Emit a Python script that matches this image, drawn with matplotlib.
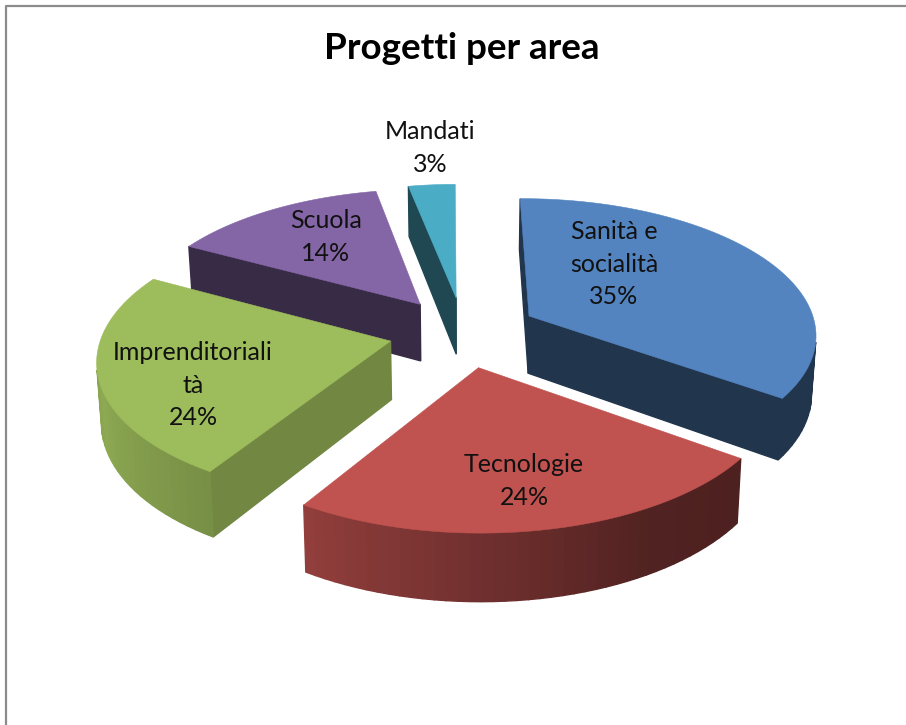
"""
Exploded 3D-look pie chart: projects each slice from a flat disk with perspective.
"""

import numpy as np
import matplotlib
matplotlib.use("Agg")
import matplotlib.pyplot as plt

# ── Data ──────────────────────────────────────────────────────────────────────
names  = ["Sanità e\nsocialità", "Tecnologie", "Imprenditoriali\ntà", "Scuola", "Mandati"]
values = [35, 24, 24, 14, 3]

# ── Style ─────────────────────────────────────────────────────────────────────
top_colors  = ["#5384C0", "#C0524F", "#9DBC5C", "#8466A6", "#4BACC6"]
face_shade  = [0.40, 0.42, 0.72, 0.42, 0.42]
label_pos   = [(614, 264), (524, 481), (193, 385), (326, 237), (430, 148)]
draw_order  = [4, 3, 0, 2, 1]

# shading of the outer wall by angle (clockwise from 12 o'clock)
wall_angle = [0, 126, 150, 212, 250, 300, 360]
wall_shade = [0.40, 0.40, 0.42, 0.76, 0.90, 0.80, 0.45]

# ── Projection ────────────────────────────────────────────────────────────────
CX, CY   = 463.5, 332
RX, RY   = 288, 135.5
PERSP    = 0.123
EXPLODE  = 0.26
HEIGHT   = 58
BOTTOM_X = 0.987
START    = -0.4


def project(x, y, drop=False):
    s = 1 / (1 - PERSP * y)
    if drop:
        return CX + RX * x * s * BOTTOM_X, CY + RY * y * s + HEIGHT * s
    return CX + RX * x * s, CY + RY * y * s


def shaded(color, f):
    return tuple(c * f for c in matplotlib.colors.to_rgb(color))


def signed_area(q):
    x, y = q[:, 0], q[:, 1]
    return 0.5 * np.sum(x * np.roll(y, -1) - np.roll(x, -1) * y)


fig = plt.figure(figsize=(9.06, 7.25), dpi=100)
ax = fig.add_axes([0, 0, 1, 1])
ax.set_xlim(0, 906)
ax.set_ylim(725, 0)
ax.axis("off")

# chart frame, cut by the picture on the right and bottom
ax.plot([6, 6, 906], [725, 5.5, 5.5], color="#8c8c8c", lw=1.6)

bounds = np.cumsum([0] + values) / sum(values) * 360 + START

for i in draw_order:
    a0, a1 = bounds[i], bounds[i + 1]
    mid = np.radians((a0 + a1) / 2)
    ox, oy = EXPLODE * np.sin(mid), -EXPLODE * np.cos(mid)

    ang = np.linspace(a0, a1, max(int((a1 - a0) / 2), 2) + 1)
    xs = np.r_[ox, ox + np.sin(np.radians(ang))]
    ys = np.r_[oy, oy - np.cos(np.radians(ang))]
    top = np.column_stack(project(xs, ys))
    bot = np.column_stack(project(xs, ys, drop=True))

    n = len(xs)
    for j in range(n):
        k = (j + 1) % n
        q = np.array([top[j], top[k], bot[k], bot[j]])
        if signed_area(q) >= 0:
            continue
        if j == 0 or j == n - 1:
            f = face_shade[i]
        else:
            f = np.interp((ang[j - 1] + ang[j]) / 2, wall_angle, wall_shade)
        c = shaded(top_colors[i], f)
        ax.fill(q[:, 0], q[:, 1], facecolor=c, edgecolor=c, lw=1.0, zorder=2)

    ax.fill(top[:, 0], top[:, 1], facecolor=top_colors[i], edgecolor=top_colors[i],
            lw=0.4, zorder=2)

# ── Text ──────────────────────────────────────────────────────────────────────
plt.rcParams["font.family"] = ["Lato", "DejaVu Sans"]
for name, v, (x, y) in zip(names, values, label_pos):
    ax.text(x, y, f"{name}\n{v}%", ha="center", va="center", fontsize=18,
            color="#111111", linespacing=1.5, zorder=5)

ax.text(462, 48, "Progetti per area", ha="center", va="center",
        fontsize=26.5, fontweight="bold", color="black", zorder=5)

fig.savefig("out.png", dpi=100)
